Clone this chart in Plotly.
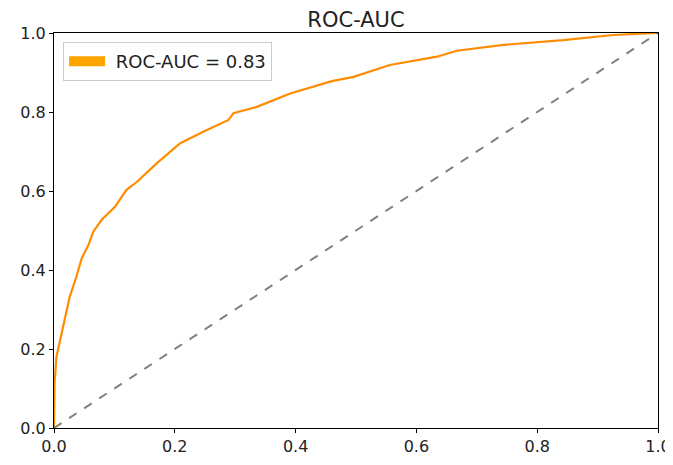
import plotly.graph_objects as go

# ROC curve
fpr = [0.0, 0.0, 0.001, 0.004, 0.010, 0.018, 0.026, 0.037, 0.046, 0.057, 0.065, 0.079,
       0.101, 0.120, 0.138, 0.170, 0.209, 0.247, 0.289, 0.297, 0.336, 0.391, 0.460,
       0.496, 0.556, 0.634, 0.667, 0.744, 0.843, 0.926, 0.990, 1.0]
tpr = [0.0, 0.05, 0.114, 0.180, 0.223, 0.282, 0.332, 0.383, 0.430, 0.463, 0.497, 0.527,
       0.560, 0.603, 0.624, 0.670, 0.721, 0.750, 0.780, 0.797, 0.813, 0.847, 0.878,
       0.889, 0.919, 0.940, 0.955, 0.970, 0.982, 0.995, 0.998, 1.0]
diag = [0.0, 1.0]
auc_label = "ROC-AUC = 0.83"
title = "ROC-AUC"
ticks = [0.0, 0.2, 0.4, 0.6, 0.8, 1.0]
tick_text = ["0.0", "0.2", "0.4", "0.6", "0.8", "1.0"]

fig = go.Figure()
fig.add_trace(go.Scatter(x=fpr, y=tpr, mode="lines", line=dict(color="#FF8C00", width=2.2),
                         showlegend=False, hoverinfo="skip"))
fig.add_trace(go.Scatter(x=diag, y=diag, mode="lines",
                         line=dict(color="#808080", width=2, dash="dash"),
                         showlegend=False, hoverinfo="skip"))
# legend patch
fig.add_trace(go.Scatter(x=[None], y=[None], mode="lines",
                         line=dict(color="#FFA500", width=13),
                         name="\u00a0" + auc_label))

axis_common = dict(range=[0, 1], tickvals=ticks, ticktext=tick_text, ticks="outside",
                   ticklen=4, tickwidth=1, tickcolor="black", showline=True, linecolor="black",
                   linewidth=1, mirror=True, showgrid=False, zeroline=False, automargin=False,
                   tickfont=dict(family="DejaVu Sans", size=16, color="#222"))
fig.update_xaxes(**axis_common)
fig.update_yaxes(**axis_common)

# the page body has an 8px margin, so the figure is offset by (8, 8)
fig.update_layout(
    width=673, height=465,
    margin=dict(l=46, r=23, t=25, b=45, autoexpand=False),
    paper_bgcolor="white", plot_bgcolor="white",
    title=dict(text=title, x=0.5, xanchor="center", xref="paper", y=0.976, yanchor="middle",
               automargin=False,
               font=dict(family="DejaVu Sans", size=21, color="#222")),
    legend=dict(x=0.015, y=0.977, xanchor="left", yanchor="top", bgcolor="rgba(255,255,255,0.8)",
                bordercolor="#CCCCCC", borderwidth=1, itemwidth=36,
                font=dict(family="DejaVu Sans", size=18, color="#222")),
    showlegend=True,
)

fig.write_html("out.html")
